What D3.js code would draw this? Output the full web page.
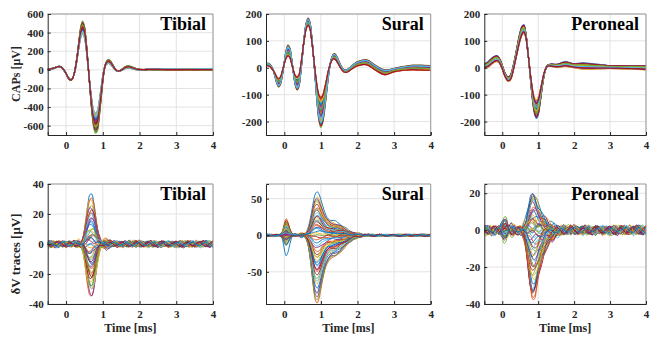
<!DOCTYPE html>
<html>
<head>
<meta charset="utf-8">
<script src="https://cdn.jsdelivr.net/npm/d3@7"></script>
<style>
  body { margin: 0; background: #fff; }
  text { font-family: "Liberation Serif", "Times New Roman", serif; font-weight: bold; }
</style>
</head>
<body>
<svg id="chart" width="650" height="339"></svg>
<script>
// ---- sample times [ms] ----
const capTime = [-0.5, -0.45, -0.4, -0.35, -0.3, -0.25, -0.2, -0.15, -0.1, -0.05,
  0, 0.05, 0.1, 0.15, 0.2, 0.25, 0.3, 0.35, 0.4, 0.45,
  0.5, 0.55, 0.6, 0.65, 0.7, 0.75, 0.8, 0.85, 0.9, 0.95,
  1, 1.05, 1.1, 1.15, 1.2, 1.25, 1.3, 1.35, 1.4, 1.45,
  1.5, 1.55, 1.6, 1.65, 1.7, 1.75, 1.8, 1.85, 1.9, 1.95,
  2, 2.25, 2.5, 2.75, 3, 3.25, 3.5, 3.75, 4];

const dvTime = [-0.5, -0.45, -0.4, -0.35, -0.3, -0.25, -0.2, -0.15, -0.1, -0.05,
  0, 0.05, 0.1, 0.15, 0.2, 0.25, 0.3, 0.35, 0.4, 0.45,
  0.5, 0.55, 0.6, 0.65, 0.7, 0.75, 0.8, 0.85, 0.9, 0.95,
  1, 1.05, 1.1, 1.15, 1.2, 1.25, 1.3, 1.35, 1.4, 1.45,
  1.5, 1.55, 1.6, 1.65, 1.7, 1.75, 1.8, 1.85, 1.9, 1.95,
  2, 2.05, 2.1, 2.15, 2.2, 2.25, 2.3, 2.35, 2.4, 2.45,
  2.5, 2.55, 2.6, 2.65, 2.7, 2.75, 2.8, 2.85, 2.9, 2.95,
  3, 3.05, 3.1, 3.15, 3.2, 3.25, 3.3, 3.35, 3.4, 3.45,
  3.5, 3.55, 3.6, 3.65, 3.7, 3.75, 3.8, 3.85, 3.9, 3.95, 4];

// ---- CAPs: largest and smallest trace of each nerve [uV] ----
const tibialCapHi = [10, 12, 15, 20, 25, 33, 38, 35, 20, -5,
  -40, -80, -108, -110, -70, 20, 150, 310, 460, 525,
  470, 300, 60, -200, -440, -610, -680, -660, -520, -330,
  -130, 20, 90, 110, 100, 70, 35, 5, -10, -10,
  0, 15, 30, 40, 42, 38, 30, 22, 15, 10,
  6, 2, 0, -2, -3, -3, -4, -5, -6];
const tibialCapLo = [0, 2, 5, 12, 20, 28, 32, 30, 15, -10,
  -40, -75, -100, -100, -70, 0, 110, 240, 345, 385,
  345, 215, 30, -160, -320, -430, -465, -440, -340, -200,
  -60, 30, 60, 68, 60, 40, 15, -5, -15, -15,
  -8, 2, 12, 18, 20, 18, 12, 6, 2, 0,
  -2, 8, 10, 10, 10, 12, 12, 14, 15];

const suralCapHi = [15, 17, 14, 5, -10, -35, -60, -72, -60, -25,
  20, 65, 85, 75, 35, -20, -65, -83, -70, -20,
  50, 120, 168, 185, 170, 115, 40, -50, -140, -200,
  -222, -205, -160, -100, -40, 10, 40, 52, 50, 38,
  22, 8, -3, -8, -8, -4, 2, 8, 14, 19,
  23, 30, 8, -8, -2, 5, 10, 10, 8];
const suralCapLo = [5, 8, 5, -2, -10, -22, -35, -40, -32, -10,
  15, 35, 43, 38, 15, -10, -28, -33, -25, 10,
  60, 110, 145, 158, 145, 100, 40, -20, -70, -100,
  -108, -100, -75, -45, -12, 12, 28, 33, 30, 20,
  8, -3, -12, -17, -17, -14, -9, -4, 0, 4,
  7, 11, -10, -26, -15, -10, -8, -9, -10];

const peronealCapHi = [15, 18, 22, 28, 35, 40, 44, 45, 40, 28,
  10, -10, -25, -33, -32, -20, 5, 35, 70, 105,
  135, 155, 160, 135, 80, 10, -65, -130, -172, -188,
  -175, -135, -85, -40, -8, 8, 12, 14, 14, 13,
  13, 14, 16, 19, 21, 22, 22, 20, 18, 16,
  15, 18, 15, 12, 8, 8, 8, 8, 8];
const peronealCapLo = [-2, 0, 2, 6, 12, 17, 21, 23, 20, 10,
  -5, -25, -40, -50, -50, -40, -15, 15, 45, 75,
  102, 120, 128, 115, 70, 15, -40, -85, -112, -120,
  -110, -85, -55, -25, -5, 5, 6, 5, 4, 3,
  2, 2, 2, 3, 4, 4, 4, 3, 2, 1,
  0, -5, -5, -4, -3, -4, -5, -6, -8];

// position of each CAP trace between smallest (0) and largest (1)
const tibialCapMix = [0.95, 0.1, 0.55, 0.3, 0.8, 0.45, 0.2, 0.7, 0.05, 0.6, 0.35, 0.9, 0.15, 0.5,
  0.75, 0.25, 0.65, 0.4, 1.0, 0.0, 0.85, 0.3, 0.6, 0.1, 0.45, 0.7, 0.2, 0.55];
const suralCapMix = [0.9, 0.05, 0.6, 0.25, 0.75, 0.4, 0.15, 0.85, 0.0, 0.5, 0.3, 1.0, 0.2, 0.65,
  0.45, 0.1, 0.8, 0.35, 0.55, 0.7, 0.95, 0.25, 0.5, 0.15, 0.6, 0.4, 0.85, 0.05];
const peronealCapMix = [1.0, 0.15, 0.5, 0.3, 0.85, 0.6, 0.05, 0.7, 0.4, 0.2, 0.95, 0.55, 0.1, 0.75,
  0.35, 0.65, 0.0, 0.45, 0.8, 0.25, 0.9, 0.5, 0.3, 0.6, 0.15, 0.7, 0.4, 0.2];

// ---- dV traces: lobe shapes (0.05 ms steps from the given start) ----
const tibialLobeFrom = 0.3;
const tibialLobe = [-0.02, -0.03, 0, 0.12, 0.32, 0.58, 0.82, 0.97, 1.0, 0.88, 0.64, 0.38, 0.17, 0.04,
  -0.04, -0.07, -0.07, -0.05, -0.03, -0.01];
const suralLobeFrom = 0.55;
const suralLobe = [0.02, 0.06, 0.15, 0.32, 0.55, 0.8, 0.96, 1.0, 0.93, 0.8, 0.66, 0.54, 0.45, 0.39,
  0.35, 0.33, 0.32, 0.31, 0.29, 0.27, 0.24, 0.21, 0.18, 0.15, 0.12, 0.1, 0.08, 0.06, 0.05, 0.04,
  0.03, 0.02, 0.015, 0.01];
const suralEarlyFrom = -0.1;
const suralEarly = [0.05, 0.25, 0.7, 1.0, 0.8, 0.4, 0.1, -0.05, -0.05, 0, 0.05, 0.1, 0.1, 0.05];
const peronealLobeFrom = 0.5;
const peronealLobe = [0.02, 0.05, 0.12, 0.25, 0.45, 0.7, 0.9, 1.0, 0.97, 0.85, 0.7, 0.56, 0.45, 0.37,
  0.3, 0.24, 0.19, 0.15, 0.12, 0.09, 0.07, 0.05, 0.04, 0.03, 0.02, 0.01];
const peronealEarlyFrom = -0.05;
const peronealEarly = [0.2, 0.6, 1.0, 0.9, 0.4, -0.1, -0.3, -0.2, 0];

// lobe amplitude of each trace [uV]
const tibialGain = [32, -35, 29, -33, 26, -30, 23, -28, 20, -25, 18, -22, 15, -20, 13, -18, 11, -16,
  9, -14, 7, -12, 5, -10, 3, -8, 1, -6, -1, -4, -2, 24, -27, 19, -23, 14, -17, 10, -13, 6, -9, 2,
  -5, 30, -31, 17, -19, 8, -11, 4];
const suralGain = [60, -92, 52, -85, 47, -78, 42, -72, 38, -66, 34, -60, 30, -55, 27, -50, 24, -46,
  21, -42, 18, -38, 15, -34, 12, -30, 9, -26, 6, -22, 3, -18, 0, -14, -3, -10, -6, 45, -80, 36,
  -63, 25, -40, 14, -28, 50, -88, 20, -48, 10];
const suralEarlyGain = [-28, 22, -10, 18, 6, 14, -4, 12, 8, -8, 3, 16, -12, 10, 5, -6, 20, 2, -15, 9,
  0, 7, -3, 13, 4, -9, 11, 1, -5, 15, -2, 6, 19, -7, 3, 10, -11, 8, 2, -4, 12, 21, -14, 5, 9, -1,
  17, 4, -6, 7];
const peronealGain = [20, -37, 18, -34, 16, -31, 14, -29, 12, -27, 10, -25, 9, -23, 8, -21, 7, -19,
  6, -17, 5, -15, 4, -13, 3, -11, 2, -9, 1, -7, 0, -5, -1, -3, 17, -32, 13, -26, 11, -20, 15, -35,
  19, -36, 6, -16, 2, -10, -2, -6];
const peronealEarlyGain = [4, -5, 3, -3, 5, -2, 2, -4, 6, -1, 1, -6, 3, 0, -3, 4, 2, -2, 5, -4,
  1, 3, -5, 2, -1, 4, -3, 0, 6, -2, 3, -4, 1, 5, -1, 2, -3, 4, 0, -5, 2, 3, -2, 1, -4, 5, 0, -1, 3, -3];

const noiseSeq = [0.2, 0.7, 0.9, 0.4, -0.3, -0.8, -0.7, -0.1, 0.5, 0.8, 0.5, -0.1, -0.6, -0.9, -0.5,
  0.2, 0.6, 0.4, -0.1, -0.4, -0.3, 0.1, 0.6, 0.9, 0.6, 0.0, -0.5, -0.7, -0.4, 0.1, 0.4, 0.3, -0.2,
  -0.6, -0.8, -0.4, 0.2, 0.7, 0.8, 0.3, -0.3, -0.6, -0.3, 0.2, 0.5, 0.2, -0.3, -0.7, -0.6, -0.1,
  0.4, 0.9, 0.7, 0.1, -0.4, -0.8, -0.6, 0.0, 0.5, 0.6, 0.2, -0.3, -0.5, -0.2, 0.3, 0.7, 0.5, -0.1,
  -0.7, -0.9, -0.4, 0.2, 0.6, 0.5, 0.0, -0.4, -0.5, -0.1, 0.4, 0.8, 0.6, 0.0, -0.5, -0.6, -0.2,
  0.3, 0.6, 0.3, -0.2, -0.6, -0.5, 0.0, 0.5, 0.9, 0.6, -0.1, -0.6, -0.8, -0.3, 0.3, 0.7, 0.5,
  -0.1, -0.5, -0.4, 0.1, 0.6, 0.7, 0.2, -0.4, -0.8, -0.6, 0.0, 0.5, 0.7, 0.3, -0.2, -0.5, -0.3, 0.2];
const noisePhase = [0, 37, 71, 13, 52, 88, 25, 64, 7, 43, 80, 19, 58, 31, 95, 3, 49, 76, 22, 67];
const noiseAmp = [1, -0.7, 1.2, -1, 0.5, -1.3, 0.8, -0.6, 1.1, -0.9, 0.6, -1.1, 0.9];

// ---- axes ----
const xTicks = [0, 1, 2, 3, 4];
const tibialCapTicks = [-600, -400, -200, 0, 200, 400, 600];
const suralCapTicks = [-200, -100, 0, 100, 200];
const peronealCapTicks = [-200, -100, 0, 100, 200];
const tibialDvTicks = [-40, -20, 0, 20, 40];
const suralDvTicks = [-50, 0, 50];
const peronealDvTicks = [-40, -20, 0, 20];

const colors = ['#0072BD', '#D95319', '#EDB120', '#7E2F8E', '#77AC30', '#4DBEEE', '#A2142F'];

function capTraces(lo, hi, mix) {
  return mix.map(function(w) {
    return capTime.map(function(t, k) {
      return { t: t, v: lo[k] + w * (hi[k] - lo[k]) };
    });
  });
}

function lobeAt(lobe, from, k) {
  if (!lobe) return 0;
  const idx = k - Math.round((from - dvTime[0]) / 0.05);
  const v = lobe[idx];
  return v === undefined ? 0 : v;
}

function dvTraces(s) {
  return s.gain.map(function(g, i) {
    const ph = noisePhase[i % noisePhase.length];
    const na = noiseAmp[i % noiseAmp.length] * s.noise;
    const eg = s.earlyGain ? (s.earlyGain[i] || 0) : 0;
    return dvTime.map(function(t, k) {
      const v = g * lobeAt(s.lobe, s.lobeFrom, k) +
        eg * lobeAt(s.early, s.earlyFrom, k) +
        na * noiseSeq[(k + ph) % noiseSeq.length];
      return { t: t, v: v };
    });
  });
}

const panels = [
  { x0: 47.7, x1: 213, y0: 14, y1: 135, yDom: [-700, 600], yTicks: tibialCapTicks, title: 'Tibial',
    traces: capTraces(tibialCapLo, tibialCapHi, tibialCapMix), lw: 1.2 },
  { x0: 266, x1: 430.7, y0: 14, y1: 135, yDom: [-250, 200], yTicks: suralCapTicks, title: 'Sural',
    traces: capTraces(suralCapLo, suralCapHi, suralCapMix), lw: 1.2 },
  { x0: 484.3, x1: 646, y0: 14, y1: 135, yDom: [-250, 200], yTicks: peronealCapTicks, title: 'Peroneal',
    traces: capTraces(peronealCapLo, peronealCapHi, peronealCapMix), lw: 1.2 },
  { x0: 47.7, x1: 213, y0: 184, y1: 304, yDom: [-40, 40], yTicks: tibialDvTicks, title: 'Tibial', xlabel: true,
    traces: dvTraces({ gain: tibialGain, lobe: tibialLobe, lobeFrom: tibialLobeFrom, noise: 2.2 }), lw: 0.9 },
  { x0: 266, x1: 430.7, y0: 184, y1: 304, yDom: [-94, 70], yTicks: suralDvTicks, title: 'Sural', xlabel: true,
    traces: dvTraces({ gain: suralGain, lobe: suralLobe, lobeFrom: suralLobeFrom,
      earlyGain: suralEarlyGain, early: suralEarly, earlyFrom: suralEarlyFrom, noise: 1.4 }), lw: 0.9 },
  { x0: 484.3, x1: 646, y0: 184, y1: 304, yDom: [-40, 25], yTicks: peronealDvTicks, title: 'Peroneal', xlabel: true,
    traces: dvTraces({ gain: peronealGain, lobe: peronealLobe, lobeFrom: peronealLobeFrom,
      earlyGain: peronealEarlyGain, early: peronealEarly, earlyFrom: peronealEarlyFrom, noise: 2.6 }), lw: 0.9 }
];

const svg = d3.select('#chart');

panels.forEach(function(p, pi) {
  const x = d3.scaleLinear().domain([-0.5, 4]).range([p.x0, p.x1]);
  const y = d3.scaleLinear().domain(p.yDom).range([p.y1, p.y0]);
  const g = svg.append('g');

  // grid
  g.append('g').selectAll('line').data(xTicks).enter().append('line')
    .attr('x1', d => x(d)).attr('x2', d => x(d)).attr('y1', p.y0).attr('y2', p.y1)
    .attr('stroke', '#e3e3e3').attr('stroke-width', 1);
  g.append('g').selectAll('line').data(p.yTicks).enter().append('line')
    .attr('x1', p.x0).attr('x2', p.x1).attr('y1', d => y(d)).attr('y2', d => y(d))
    .attr('stroke', '#e3e3e3').attr('stroke-width', 1);

  // traces
  svg.append('clipPath').attr('id', 'clip' + pi).append('rect')
    .attr('x', p.x0).attr('y', p.y0).attr('width', p.x1 - p.x0).attr('height', p.y1 - p.y0);
  const line = d3.line().x(d => x(d.t)).y(d => y(d.v)).curve(d3.curveCatmullRom.alpha(0.5));
  g.append('g').attr('clip-path', 'url(#clip' + pi + ')')
    .selectAll('path').data(p.traces).enter().append('path')
    .attr('d', line)
    .attr('fill', 'none')
    .attr('stroke', (d, i) => colors[i % colors.length])
    .attr('stroke-width', p.lw);

  // box top/right
  g.append('path')
    .attr('d', 'M' + p.x0 + ',' + p.y0 + 'H' + p.x1 + 'V' + p.y1)
    .attr('fill', 'none').attr('stroke', '#9a9a9a').attr('stroke-width', 1);

  // axes
  const ax = g.append('g').attr('transform', 'translate(0,' + p.y1 + ')')
    .call(d3.axisBottom(x).tickValues(xTicks).tickSize(-3).tickPadding(6).tickFormat(d => String(d)));
  const ay = g.append('g').attr('transform', 'translate(' + p.x0 + ',0)')
    .call(d3.axisLeft(y).tickValues(p.yTicks).tickSize(-3).tickPadding(4).tickFormat(d => String(d)));
  [ax, ay].forEach(function(a) {
    a.select('.domain').attr('stroke', '#262626');
    a.selectAll('.tick line').attr('stroke', '#262626');
    a.selectAll('.tick text').attr('fill', '#262626')
      .style('font-family', '"Liberation Serif", serif').style('font-weight', 'bold').style('font-size', '11px');
  });

  // title
  g.append('text')
    .attr('x', p.x1 - 7).attr('y', p.y0 + 16)
    .attr('text-anchor', 'end')
    .attr('font-size', 18)
    .attr('fill', '#000')
    .text(p.title);

  if (p.xlabel) {
    g.append('text')
      .attr('x', (p.x0 + p.x1) / 2).attr('y', 332)
      .attr('text-anchor', 'middle')
      .attr('font-size', 12)
      .attr('fill', '#262626')
      .text('Time [ms]');
  }
});

svg.append('text')
  .attr('transform', 'translate(19.5,74) rotate(-90)')
  .attr('text-anchor', 'middle').attr('font-size', 12).attr('fill', '#262626')
  .text('CAPs [μV]');
svg.append('text')
  .attr('transform', 'translate(19.5,254) rotate(-90)')
  .attr('text-anchor', 'middle').attr('font-size', 13).attr('fill', '#262626')
  .text('δV traces [μV]');
</script>
</body>
</html>
